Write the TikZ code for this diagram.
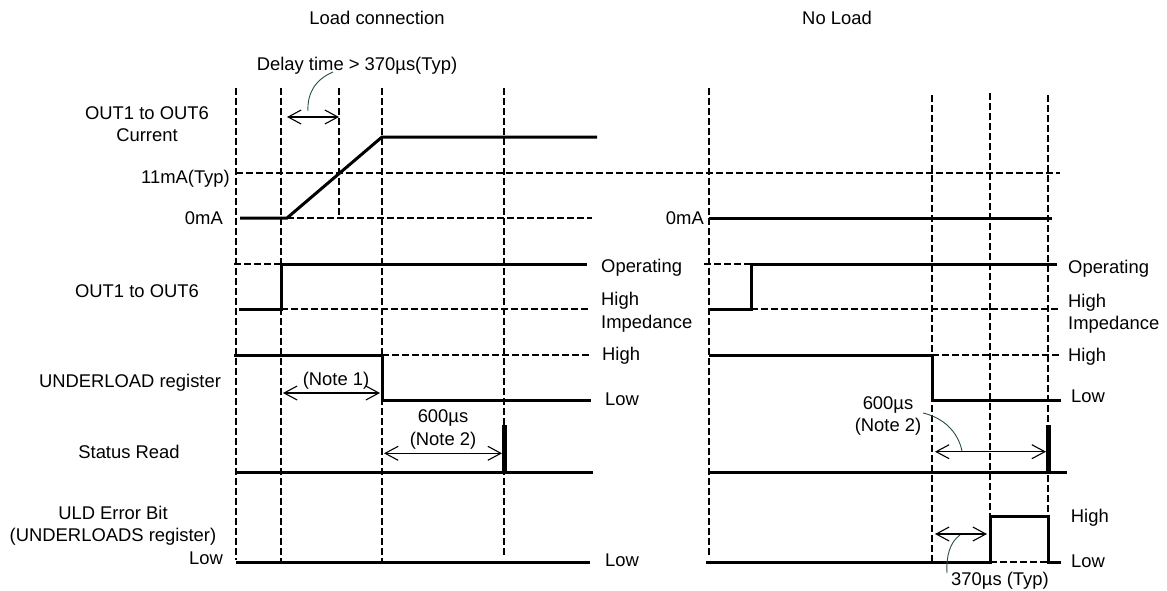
\documentclass[tikz,border=0pt]{standalone}
\usepackage{fontspec}
\setmainfont{Liberation Sans}
\usetikzlibrary{arrows.meta}
\definecolor{leadc}{RGB}{40,80,60}
\begin{document}
\begin{tikzpicture}[x=1pt,y=-1pt,
  sig/.style={line width=3pt, line join=miter},
  gridl/.style={line width=1.3pt, dash pattern=on 6.5pt off 3.5pt},
  dimarr/.style={line width=1.1pt, {Straight Barb[length=13pt,width=14pt]}-{Straight Barb[length=13pt,width=14pt]}},
  leader/.style={line width=0.9pt, draw=leadc},
  txt/.style={inner sep=0pt, font=\fontsize{18.4}{22}\selectfont},
  pulse/.style={line width=5pt}]
\useasboundingbox (0,0) rectangle (1167,590);

% ---------- titles ----------
\node[txt, anchor=base] (t1) at (377,24.3) {Load connection};
\node[txt, anchor=base] (t2) at (837,24.3) {No Load};

% ---------- left labels ----------
\node[txt, anchor=base] (l1a) at (147,119.3) {OUT1 to OUT6};
\node[txt, anchor=base] (l1b) at (147,141.7) {Current};
\node[txt, anchor=base east] (l11) at (230,183.3) {11mA(Typ)};
\node[txt, anchor=base east] (l0) at (223,224.5) {0mA};
\node[txt, anchor=base east] (r0) at (704,224.5) {0mA};
\node[txt, anchor=base] (l2) at (137,297) {OUT1 to OUT6};
\node[txt, anchor=base] (l3) at (130,387.7) {UNDERLOAD register};
\node[txt, anchor=base] (l4) at (129,458) {Status Read};
\node[txt, anchor=base] (l5a) at (113,519.3) {ULD Error Bit};
\node[txt, anchor=base] (l5b) at (113,541.7) {(UNDERLOADS register)};
\node[txt, anchor=base east] (l5c) at (223,564) {Low};

% ---------- right labels (left panel) ----------
\node[txt, anchor=base west] (a1) at (601,272.7) {Operating};
\node[txt, anchor=base west] (a2) at (601,305.3) {High};
\node[txt, anchor=base west] (a3) at (601,328.3) {Impedance};
\node[txt, anchor=base west] (a4) at (602,360.7) {High};
\node[txt, anchor=base west] (a5) at (605,405.7) {Low};
\node[txt, anchor=base west] (a6) at (605,566.7) {Low};

% ---------- right labels (right panel) ----------
\node[txt, anchor=base west] (b1) at (1068,273) {Operating};
\node[txt, anchor=base west] (b2) at (1068,307) {High};
\node[txt, anchor=base west] (b3) at (1068,329) {Impedance};
\node[txt, anchor=base west] (b4) at (1068,361.5) {High};
\node[txt, anchor=base west] (b5) at (1071,402.7) {Low};
\node[txt, anchor=base west] (b6) at (1070.7,522.7) {High};
\node[txt, anchor=base west] (b7) at (1071,567.7) {Low};

% ---------- grid (dashed) ----------
\draw[gridl] (236,88) -- (236,560);
\draw[gridl] (281,88) -- (281,562);
\draw[gridl] (339,88) -- (339,218);
\draw[gridl] (382,88) -- (382,562);
\draw[gridl] (504,88) -- (504,555);
\draw[gridl] (709,88) -- (709,558);
\draw[gridl] (932,95) -- (932,562);
\draw[gridl] (990,93) -- (990,562);
\draw[gridl] (1048,95) -- (1048,562);

\draw[gridl] (236,173) -- (1060,173);
\draw[gridl] (287,218) -- (592,218);
\draw[gridl] (234,264) -- (281,264);
\draw[gridl] (281,309) -- (588,309);
\draw[gridl] (382,355) -- (591,355);
\draw[gridl] (704,264) -- (751,264);
\draw[gridl] (751,309) -- (1058,309);
\draw[gridl] (932,355) -- (1060,355);
\draw[gridl] (990,562) -- (1048,562);

% ---------- signals: load connection ----------
\draw[sig] (240,218) -- (287,218) -- (382,137) -- (597,137);
\draw[sig] (239,309) -- (281,309) -- (281,264) -- (587,264);
\draw[sig] (234,355) -- (382,355) -- (382,400) -- (591,400);
\draw[sig] (236,472) -- (593,472);
\draw[pulse] (504,425) -- (504,474);
\draw[sig] (236,562) -- (590,562);

% ---------- signals: no load ----------
\draw[sig] (709,218) -- (1052,218);
\draw[sig] (709,309) -- (751,309) -- (751,264) -- (1057,264);
\draw[sig] (709,355) -- (932,355) -- (932,400) -- (1061,400);
\draw[sig] (710,472) -- (1067,472);
\draw[pulse] (1048,425) -- (1048,474);
\draw[sig] (706,562) -- (990,562) -- (990,516) -- (1048,516) -- (1048,562) -- (1061,562);

% ---------- dimension arrows ----------
\coordinate (d1a) at (287,117); \coordinate (d1b) at (339,117);
\draw[dimarr] (d1a) -- (d1b);
\coordinate (n1a) at (283,393); \coordinate (n1b) at (380,393);
\draw[dimarr] (n1a) -- (n1b);
\coordinate (n2a) at (384,453.3); \coordinate (n2b) at (502,453.3);
\draw[dimarr] (n2a) -- (n2b);
\coordinate (m2a) at (935,451.7); \coordinate (m2b) at (1046,451.7);
\draw[dimarr] (m2a) -- (m2b);
\coordinate (m3a) at (935,534); \coordinate (m3b) at (987,534);
\draw[dimarr] (m3a) -- (m3b);

% ---------- annotation texts ----------
\node[txt, anchor=base] (dly) at (357,70) {Delay time > 370µs(Typ)};
\node[txt, anchor=base] (nt1) at (336,385) {(Note 1)};
\node[txt, anchor=base] (n2t1) at (443,422.5) {600µs};
\node[txt, anchor=base] (n2t2) at (443,445) {(Note 2)};
\node[txt, anchor=base] (m2t1) at (888,409.3) {600µs};
\node[txt, anchor=base] (m2t2) at (888,431.7) {(Note 2)};
\node[txt, anchor=base] (m3t) at (1000,585) {370µs (Typ)};

% ---------- leaders ----------
\coordinate (ld1) at (333,72);
\coordinate (ld1e) at (308,111);
\draw[leader] (ld1) .. controls (314,80) and (307,95) .. (ld1e);
\coordinate (ld2) at (923,413);
\coordinate (ld2e) at (962,451);
\draw[leader] (ld2) .. controls (944,418) and (958,432) .. (ld2e);
\coordinate (ld3) at (960,535);
\coordinate (ld3e) at (947,573);
\draw[leader] (ld3) .. controls (950,542) and (946,556) .. (ld3e);
\end{tikzpicture}
\end{document}
